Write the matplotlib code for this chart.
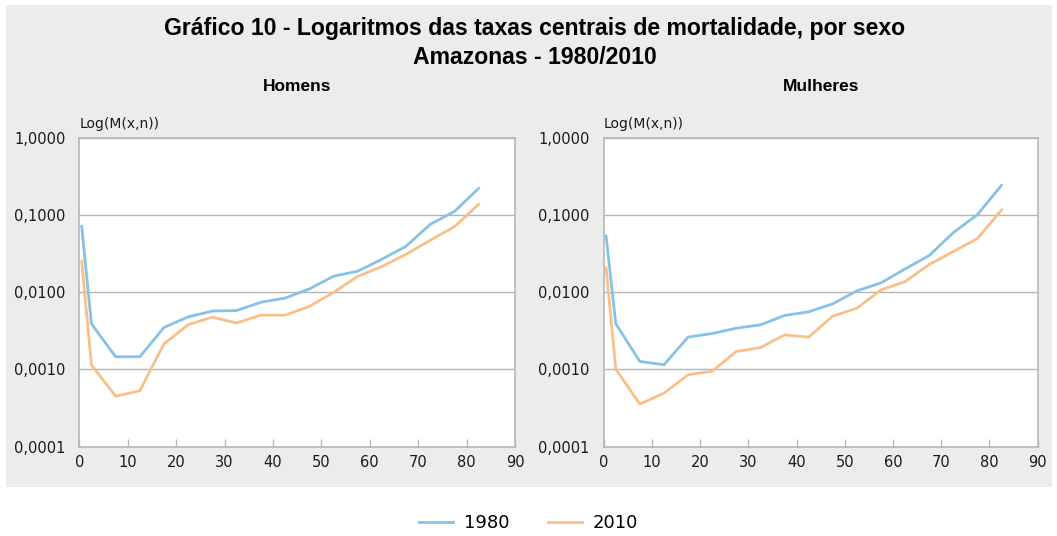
import numpy as np
import matplotlib
matplotlib.use('Agg')
import matplotlib.pyplot as plt
from matplotlib.patches import Rectangle
from matplotlib.ticker import FixedLocator, FuncFormatter, NullLocator

# age group midpoints
ages = [0.5, 2.5, 7.5, 12.5, 17.5, 22.5, 27.5, 32.5, 37.5, 42.5,
        47.5, 52.5, 57.5, 62.5, 67.5, 72.5, 77.5, 82.5]

homens_1980 = [0.071, 0.0039, 0.00146, 0.00146, 0.0035, 0.0048, 0.0057, 0.0058, 0.0074,
               0.0084, 0.011, 0.0161, 0.0187, 0.0267, 0.0394, 0.0757, 0.111, 0.221]
homens_2010 = [0.0252, 0.00115, 0.00045, 0.00053, 0.00215, 0.0038, 0.00475, 0.0040, 0.00505,
               0.00505, 0.00653, 0.0099, 0.016, 0.0215, 0.031, 0.047, 0.0706, 0.137]

mulheres_1980 = [0.0535, 0.0039, 0.00127, 0.00115, 0.00262, 0.00292, 0.00342, 0.00378, 0.0050,
                 0.00557, 0.00707, 0.0104, 0.0132, 0.020, 0.0298, 0.059, 0.101, 0.242]
mulheres_2010 = [0.0208, 0.00101, 0.000356, 0.000494, 0.000853, 0.00095, 0.00171, 0.00192, 0.0028,
                 0.00262, 0.0049, 0.0062, 0.0107, 0.0137, 0.0228, 0.0336, 0.0494, 0.116]

years = ['1980', '2010']
colors = ['#86c2e6', '#f8c088']
y_ticks = [0.0001, 0.001, 0.01, 0.1, 1.0]
x_ticks = list(range(0, 100, 10))

TITLE_FONT = ['Liberation Sans Narrow', 'Liberation Sans', 'DejaVu Sans']


def fmt(v, pos):
    return ('%.4f' % v).replace('.', ',')


def draw_panel(ax, name, s1980, s2010):
    ax.set_facecolor('white')
    ax.plot(ages, s1980, color=colors[0], lw=2.0, label=years[0], zorder=3)
    ax.plot(ages, s2010, color=colors[1], lw=2.0, label=years[1], zorder=3)

    ax.set_yscale('log')
    ax.set_ylim(0.0001, 1.0)
    ax.set_xlim(0, 90)
    ax.yaxis.set_major_locator(FixedLocator(y_ticks))
    ax.yaxis.set_minor_locator(NullLocator())
    ax.yaxis.set_major_formatter(FuncFormatter(fmt))
    ax.xaxis.set_major_locator(FixedLocator(x_ticks))

    ax.grid(axis='y', color='#b4b4b4', lw=1.0, zorder=1)
    for sp in ax.spines.values():
        sp.set_color('#b8b8b8')
        sp.set_linewidth(1.2)

    ax.tick_params(axis='y', length=0, pad=10, labelsize=10.5, labelcolor='#1a1a1a')
    ax.tick_params(axis='x', direction='in', length=6, width=1, color='#b8b8b8',
                   pad=6, labelsize=10.5, labelcolor='#1a1a1a')

    ax.text(0, 1.045, 'Log(M(x,n))', transform=ax.transAxes, ha='left', va='center',
            fontsize=10, color='#1a1a1a')
    ax.text(0.5, 1.167, name, transform=ax.transAxes, ha='center', va='center',
            fontsize=12.5, fontweight='bold', family=TITLE_FONT)


fig = plt.figure(figsize=(10.57, 5.36), dpi=100)
fig.patch.set_facecolor('white')

# gray panel behind the charts
bg = Rectangle((6 / 1057, 1 - 487 / 536), 1046 / 1057, 482 / 536,
               transform=fig.transFigure, facecolor='#ebeceb',
               edgecolor='none', zorder=-10)
fig.add_artist(bg)

ax1 = fig.add_axes([79.3 / 1057, 1 - 446.7 / 536, 435.7 / 1057, 309 / 536])
ax2 = fig.add_axes([603.7 / 1057, 1 - 446.7 / 536, 434 / 1057, 309 / 536])

draw_panel(ax1, 'Homens', homens_1980, homens_2010)
draw_panel(ax2, 'Mulheres', mulheres_1980, mulheres_2010)

fig.text(535 / 1057, 1 - 29 / 536, 'Gráfico 10 - Logaritmos das taxas centrais de mortalidade, por sexo',
         ha='center', va='center', fontsize=16.6, fontweight='bold', family=TITLE_FONT)
fig.text(535 / 1057, 1 - 57 / 536, 'Amazonas - 1980/2010',
         ha='center', va='center', fontsize=16.6, fontweight='bold', family=TITLE_FONT)

handles, labels = ax1.get_legend_handles_labels()
fig.legend(handles, labels, loc='center', bbox_to_anchor=(0.5, 1 - 523 / 536), ncol=2,
           frameon=False, fontsize=13, handlelength=1.9, columnspacing=2.1,
           handletextpad=0.6)

fig.savefig('out.png', dpi=100)
